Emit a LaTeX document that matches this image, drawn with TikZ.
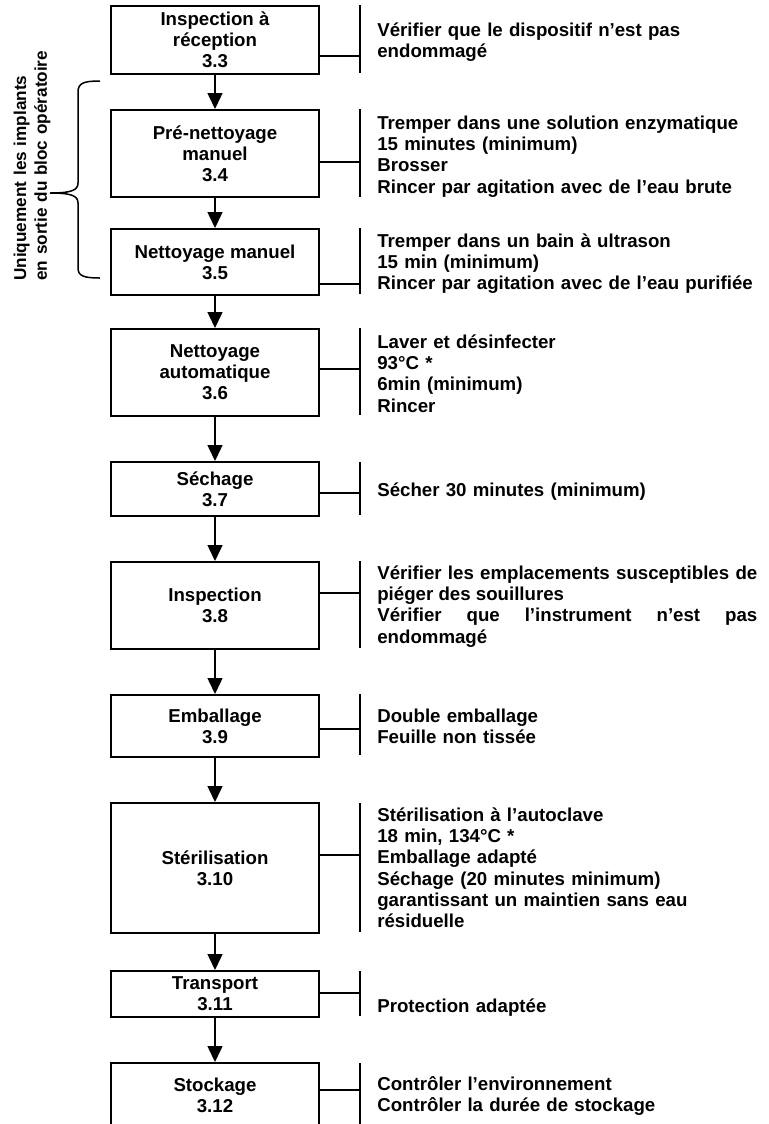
\documentclass[tikz,border=0pt]{standalone}
\usepackage{fontspec}
\setmainfont{Liberation Sans}
\usetikzlibrary{arrows.meta}
\tikzset{%
	stepbox/.style={
		draw,
		line width=1.2pt,
		minimum width=124.8pt,
		inner sep=0pt,
		align=center,
		font=\fontsize{11.2}{12.6}\selectfont\bfseries
	},
	notetext/.style={
		anchor=base west,
		inner sep=0pt,
		text width=232pt,
		align=left,
		font=\fontsize{11.2}{12.8}\selectfont\bfseries
	},
	flowarrow/.style={
		line width=0.9pt,
		-{Triangle[length=9.6pt, width=9pt]}
	},
	sidebar/.style={line width=1.2pt},
	sidelink/.style={line width=0.8pt},
	bracket/.style={line width=0.9pt},
}

\begin{document}
\begin{tikzpicture}[x=0.6pt, y=-0.6pt]
	% page frame, the last box runs past the bottom edge
	\clip (0,0) rectangle (769,1124);
	
	% the steps
	\node[stepbox, minimum height=68*0.6pt] (b1) at (215,40) {Inspection à\\réception\\3.3};
	\node[stepbox, minimum height=87*0.6pt] (b2) at (215,153.5) {Pré-nettoyage\\manuel\\3.4};
	\node[stepbox, minimum height=66*0.6pt] (b3) at (215,262) {Nettoyage manuel\\3.5};
	\node[stepbox, minimum height=87*0.6pt] (b4) at (215,372.5) {Nettoyage\\automatique\\3.6};
	\node[stepbox, minimum height=54*0.6pt] (b5) at (215,489) {Séchage\\3.7};
	\node[stepbox, minimum height=87*0.6pt] (b6) at (215,605.5) {Inspection\\3.8};
	\node[stepbox, minimum height=62*0.6pt] (b7) at (215,726) {Emballage\\3.9};
	\node[stepbox, minimum height=130*0.6pt] (b8) at (215,868) {Stérilisation\\3.10};
	\node[stepbox, minimum height=46*0.6pt] (b9) at (215,994) {Transport\\3.11};
	\node[stepbox, minimum height=64*0.6pt] (b10) at (215,1095) {Stockage\\3.12};
	
	% arrows between the steps
	\foreach \i [count=\j from 2] in {1,...,9}
		\draw[flowarrow] (b\i.south) -- (b\j.north);
	
	% bar and link on the right of each step
	\foreach \i/\ya/\yb/\yk in {1/5/73/56, 2/109/197/162, 3/228/294/284, 4/328/415/369, 5/462/515/493,
		6/561/648/593, 7/694/755/729, 8/803/932/855, 9/971/1016/993, 10/1063/1130/1090} {
		\draw[sidebar] (360,\ya) -- (360,\yb);
		\coordinate (k\i) at (360,\yk);
		\draw[sidelink] (b\i.east |- k\i) -- (k\i);
	}
	
	% notes
	\node[notetext] (t1) at (377,36) {Vérifier que le dispositif n’est pas\\endommagé};
	\node[notetext] (t2) at (377,129) {Tremper dans une solution enzymatique\\15 minutes (minimum)\\Brosser\\Rincer par agitation avec de l’eau brute};
	\node[notetext] (t3) at (377,247) {Tremper dans un bain à ultrason\\15 min (minimum)\\Rincer par agitation avec de l’eau purifiée};
	\node[notetext] (t4) at (377,348) {Laver et désinfecter\\93°C *\\6min (minimum)\\Rincer};
	\node[notetext] (t5) at (377,496) {Sécher 30 minutes (minimum)};
	\node[notetext, text width=228pt, align=justify] (t6) at (377,579) {Vérifier les emplacements susceptibles de\linebreak piéger des souillures\par Vérifier que l’instrument n’est pas\linebreak endommagé};
	\node[notetext] (t7) at (377,722) {Double emballage\\Feuille non tissée};
	\node[notetext] (t8) at (377,821) {Stérilisation à l’autoclave\\18 min, 134°C *\\Emballage adapté\\Séchage (20 minutes minimum)\\garantissant un maintien sans eau\\résiduelle};
	\node[notetext] (t9) at (377,1012) {Protection adaptée};
	\node[notetext] (t10) at (377,1090) {Contrôler l’environnement\\Contrôler la durée de stockage};
	
	% brace for steps 3.4 and 3.5
	\draw[bracket] (100,81) .. controls (84,81) and (78,83) .. (78,92) -- (78,183)
		.. controls (78,190) and (72,193) .. (50,193)
		.. controls (72,193) and (78,196) .. (78,203) -- (78,268)
		.. controls (78,276) and (84,278) .. (100,278);
	\node[notetext, rotate=90, text width=150pt, font=\fontsize{10.3}{12.6}\selectfont\bfseries] (lab) at (26,281) {Uniquement les implants\\en sortie du bloc opératoire};
\end{tikzpicture}
\end{document}
